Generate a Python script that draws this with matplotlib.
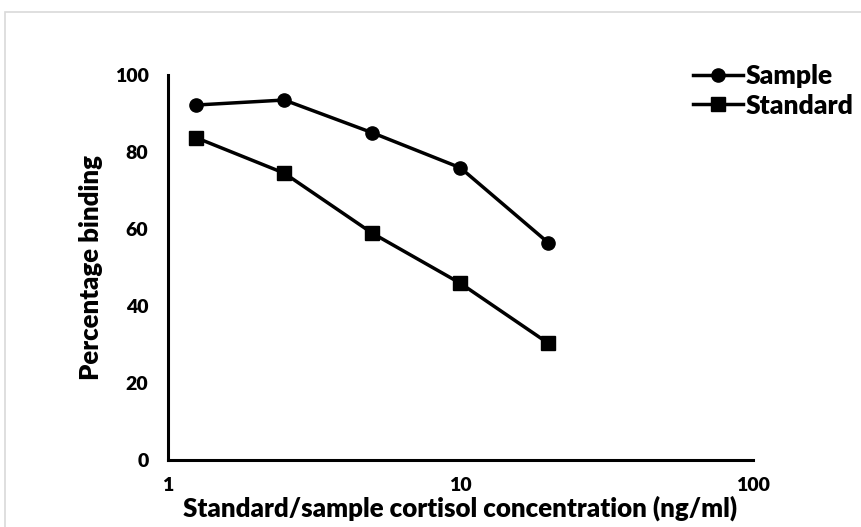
import matplotlib.pyplot as plt
import matplotlib.patches as mpatches
import matplotlib.ticker as mticker

# data
conc = [1.25, 2.5, 5, 10, 20]
sample = [92.2, 93.5, 85.0, 75.9, 56.4]
standard = [83.7, 74.5, 58.9, 45.9, 30.3]

x_ticks = [1, 10, 100]
y_ticks = [0, 20, 40, 60, 80, 100]

plt.rcParams['font.family'] = ['Lato', 'DejaVu Sans']
plt.rcParams['font.weight'] = 'heavy'

fig = plt.figure(figsize=(8.61, 5.27), dpi=100)
ax = fig.add_axes([0.195, 0.1271, 0.6794, 0.7306])

# light grey chart-area border like Excel
fig.patches.append(mpatches.Rectangle((5 / 861, -0.05), 1.1, 1.05 - 12 / 527,
                                      transform=fig.transFigure, fill=False,
                                      edgecolor='#d9d9d9', linewidth=1.2))

ax.plot(conc, sample, color='black', lw=2.5, marker='o', ms=9.5, label='Sample')
ax.plot(conc, standard, color='black', lw=2.5, marker='s', ms=10.5, label='Standard')

ax.set_xscale('log')
ax.set_xlim(1, 100)
ax.set_ylim(0, 100)
ax.set_xticks(x_ticks)
ax.xaxis.set_major_formatter(mticker.FuncFormatter(lambda v, p: f"{v:g}"))
ax.xaxis.set_minor_locator(mticker.NullLocator())
ax.set_yticks(y_ticks)

ax.tick_params(axis='both', length=0, labelsize=14)
ax.tick_params(axis='x', pad=12)
ax.tick_params(axis='y', pad=14)
for lab in ax.get_xticklabels() + ax.get_yticklabels():
    lab.set_fontweight('heavy')

for s in ['top', 'right']:
    ax.spines[s].set_visible(False)
for s in ['left', 'bottom']:
    ax.spines[s].set_linewidth(2.2)

ax.set_xlabel('Standard/sample cortisol concentration (ng/ml)', fontsize=18.6,
              fontweight='heavy', labelpad=1)
ax.set_ylabel('Percentage binding', fontsize=18.5, fontweight='heavy', labelpad=8)

ax.legend(loc='upper left', bbox_to_anchor=(0.88, 1.055), frameon=False,
          handlelength=1.9, handletextpad=0.1, labelspacing=0.2,
          borderaxespad=0, prop={'weight': 'heavy', 'size': 19})

fig.savefig('out.png', dpi=100)
